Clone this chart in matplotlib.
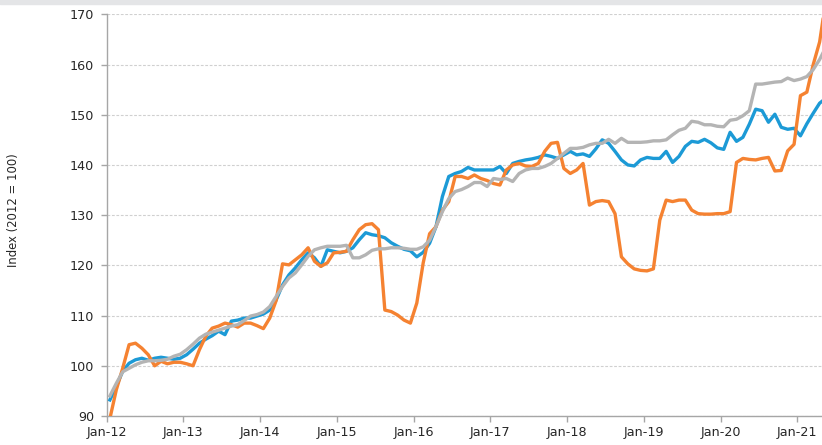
import matplotlib
matplotlib.use("Agg")
import matplotlib.pyplot as plt
from matplotlib.patches import Rectangle

tick_labels = ["Jan-12", "Jan-13", "Jan-14", "Jan-15", "Jan-16",
               "Jan-17", "Jan-18", "Jan-19", "Jan-20", "Jan-21"]

blue = [93.2, 95.9, 98.9, 100.5, 101.2, 101.5, 101.1, 101.5, 101.7, 101.5, 101.3, 101.5,
        102.2, 103.3, 104.5, 105.3, 106.0, 106.9, 106.2, 108.9, 109.1, 109.5, 109.5, 109.9,
        110.3, 111.1, 113.1, 116.1, 118.1, 119.5, 121.1, 122.5, 121.5, 119.8, 123.1, 122.8,
        122.5, 122.8, 123.5, 125.1, 126.5, 126.1, 125.9, 125.5, 124.5, 123.8, 123.2, 122.9,
        121.7, 122.6, 124.4, 127.7, 133.7, 137.7, 138.3, 138.7, 139.5, 139.0, 139.0, 139.0,
        139.0, 139.7, 138.3, 140.3, 140.7, 141.0, 141.2, 141.5, 142.0, 141.7, 141.3, 142.0,
        142.7, 142.0, 142.2, 141.7, 143.2, 145.0, 144.3, 142.7, 141.0, 140.0, 139.8, 141.0,
        141.5, 141.3, 141.3, 142.7, 140.5, 141.7, 143.7, 144.7, 144.5, 145.1, 144.4, 143.4,
        143.1, 146.5, 144.7, 145.5, 148.1, 151.1, 150.8, 148.5, 150.1, 147.5, 147.1, 147.3,
        145.8, 148.2, 150.3, 152.3, 153.3, 158.0]

orange = [89.5, 95.2, 99.5, 104.2, 104.5, 103.5, 102.2, 100.0, 100.9, 100.4, 100.7, 100.7,
          100.4, 100.0, 103.2, 105.9, 107.5, 107.9, 108.5, 108.2, 107.7, 108.5, 108.5, 108.0,
          107.4, 109.5, 113.0, 120.3, 120.1, 121.1, 122.1, 123.5, 120.8, 119.8, 120.5, 122.5,
          122.6, 122.8, 125.1, 127.1, 128.1, 128.3, 127.1, 111.1, 110.8, 110.1, 109.1, 108.5,
          112.5, 120.5, 126.3, 127.7, 131.0, 132.7, 137.7, 137.7, 137.3, 138.0, 137.3, 136.9,
          136.3, 136.0, 139.0, 140.0, 140.3, 139.8, 139.7, 140.3, 142.7, 144.3, 144.5, 139.3,
          138.3, 139.0, 140.3, 132.0, 132.7, 132.9, 132.7, 130.3, 121.7, 120.3, 119.3, 119.0,
          118.9, 119.3, 129.0, 133.0, 132.7, 133.0, 133.0, 131.0, 130.3, 130.2, 130.2, 130.3,
          130.3, 130.7, 140.5, 141.3, 141.1, 141.0, 141.3, 141.5, 138.8, 138.9, 142.8, 144.1,
          153.8, 154.5, 160.0, 164.5, 173.0]

grey = [94.0, 96.5, 98.8, 99.5, 100.2, 100.7, 101.0, 101.0, 101.1, 101.3, 101.9, 102.3,
        103.2, 104.3, 105.5, 106.3, 106.7, 107.1, 107.5, 107.9, 108.2, 109.0, 109.9, 110.2,
        110.7, 111.8, 113.8, 115.8, 117.5, 118.5, 120.1, 121.8, 123.1, 123.5, 123.8, 123.8,
        123.8, 124.0, 121.5, 121.5, 122.1, 123.0, 123.3, 123.3, 123.5, 123.5, 123.4, 123.2,
        123.2, 123.7, 125.0, 127.7, 130.7, 133.3, 134.7, 135.1, 135.7, 136.5, 136.5, 135.7,
        137.3, 137.1, 137.3, 136.7, 138.3, 139.0, 139.3, 139.3, 139.7, 140.3, 141.3, 142.3,
        143.3, 143.3, 143.5, 144.0, 144.3, 144.3, 145.1, 144.3, 145.3, 144.5, 144.5, 144.5,
        144.6, 144.8, 144.8, 145.0, 146.0, 146.9, 147.3, 148.7, 148.5, 148.0, 148.0, 147.7,
        147.6, 148.9, 149.1, 149.8, 150.8, 156.1, 156.1, 156.3, 156.5, 156.6, 157.3, 156.8,
        157.1, 157.6, 159.0, 161.0, 163.5, 166.5]

C_BLUE = "#1c9ad6"
C_ORANGE = "#f58231"
C_GREY = "#b4b4b4"

W, H = 822, 445
fig = plt.figure(figsize=(W / 100, H / 100), dpi=100)
fig.patches.append(Rectangle((0, 1 - 3.5 / H), 1, 3.5 / H, transform=fig.transFigure,
                             color="#e4e5e7", zorder=0))

left_px, top_px, bottom_px = 106.7, 14.3, 416.0
ax = fig.add_axes([left_px / W, 1 - bottom_px / H, 1 - left_px / W, (bottom_px - top_px) / H])

n = min(len(blue), len(orange), len(grey))
x = [i + 0.5 for i in range(n)]
lw = 2.4
ax.plot(x, blue[:n], color=C_BLUE, lw=lw, solid_joinstyle="round", zorder=3)
ax.plot(x, orange[:n], color=C_ORANGE, lw=lw, solid_joinstyle="round", zorder=4)
ax.plot(x, grey[:n], color=C_GREY, lw=lw, solid_joinstyle="round", zorder=5)

ax.set_xlim(0, (W - left_px) / 6.394)
ax.set_ylim(90, 170)
ax.set_yticks(range(90, 171, 10))
ax.set_xticks([12 * i for i in range(len(tick_labels))])
ax.set_xticklabels(tick_labels)

for s in ["top", "right"]:
    ax.spines[s].set_visible(False)
for s in ["left", "bottom"]:
    ax.spines[s].set_color("#a6a6a6")
    ax.spines[s].set_linewidth(1.0)

ax.yaxis.grid(True, linestyle=(0, (2.5, 1.5)), color="#d0d0d0", linewidth=0.8)
ax.set_axisbelow(True)
ax.tick_params(axis="both", colors="#a6a6a6", length=4, width=1.0,
               labelcolor="#262626", labelsize=9.2)
ax.tick_params(axis="x", pad=3)
ax.tick_params(axis="y", pad=5)
for lab in ax.get_xticklabels() + ax.get_yticklabels():
    lab.set_family("DejaVu Sans")

fig.text(13.5 / W, 1 - 210.5 / H, "Index (2012 = 100)", rotation=90, ha="center", va="center",
         fontsize=8.4, color="#262626", family="DejaVu Sans")

fig.savefig("out.png", dpi=100)
